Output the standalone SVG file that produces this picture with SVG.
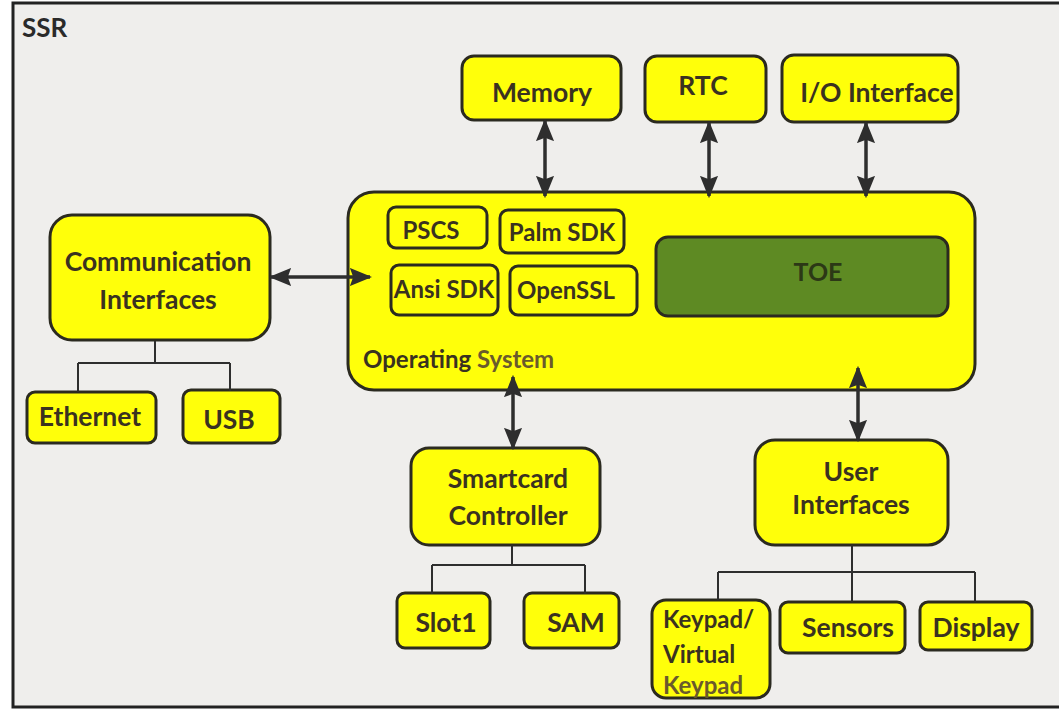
<svg xmlns="http://www.w3.org/2000/svg" width="1059" height="713" viewBox="0 0 1059 713">
  <style>
    .box { fill: #ffff0a; stroke: #2b2a20; stroke-width: 3; }
    .toe { fill: #5e8a23; stroke: #2b2a20; stroke-width: 3; }
    .lbl { font-family: Lato, "Open Sans", sans-serif; font-weight: bold; fill: #3a3220; font-size: 26.5px; }
    .sm { font-size: 24px; }
    .kp { font-size: 24px; }
    .mid { text-anchor: middle; }
    .soft { fill: #6a5a2c; }
    .link { stroke: #2e2e2e; stroke-width: 3.5; fill: none; }
    .tree { stroke: #2e2e2e; stroke-width: 2; fill: none; }
  </style>
  <defs>
    <marker id="head" viewBox="0 0 10 10" refX="9" refY="5" markerWidth="6.4" markerHeight="5.2" preserveAspectRatio="none" orient="auto-start-reverse" markerUnits="strokeWidth">
      <path d="M0,0 L10,5 L0,10 L1.5,5 z" fill="#2e2e2e"/>
    </marker>
  </defs>

  <rect width="1059" height="713" fill="#ffffff"/>
  <!-- SSR enclosure -->
  <g id="ssr">
    <rect x="13" y="3" width="1052" height="704" fill="#efeeec" stroke="#222" stroke-width="3"/>
    <text class="lbl" x="22" y="37" style="font-size:26px; fill:#2a2a2a">SSR</text>
  </g>

  <g id="memory">
    <rect class="box" x="462" y="56" width="159" height="64" rx="12"/>
    <text class="lbl mid" x="542" y="102">Memory</text>
  </g>
  <g id="rtc">
    <rect class="box" x="645" y="56" width="121" height="66" rx="12"/>
    <text class="lbl mid" x="703" y="95">RTC</text>
  </g>
  <g id="io-interface">
    <rect class="box" x="782" y="55" width="176" height="67" rx="12"/>
    <text class="lbl mid" x="877" y="102">I/O Interface</text>
  </g>

  <g id="operating-system">
    <rect class="box" x="348" y="192" width="627" height="198" rx="26"/>
    <text class="lbl sm" x="363" y="368">Operating <tspan class="soft">System</tspan></text>
  </g>
  <g id="pscs">
    <rect class="box" x="388" y="207" width="99" height="41" rx="8"/>
    <text class="lbl sm mid" x="431" y="239">PSCS</text>
  </g>
  <g id="palm-sdk">
    <rect class="box" x="500" y="210" width="124" height="43" rx="8"/>
    <text class="lbl sm mid" x="562" y="241">Palm SDK</text>
  </g>
  <g id="ansi-sdk">
    <rect class="box" x="391" y="265" width="107" height="50" rx="8"/>
    <text class="lbl sm mid" x="444" y="298">Ansi SDK</text>
  </g>
  <g id="openssl">
    <rect class="box" x="510" y="266" width="127" height="49" rx="8"/>
    <text class="lbl sm mid" x="566" y="299">OpenSSL</text>
  </g>
  <g id="toe">
    <rect class="toe" x="656" y="237" width="292" height="79" rx="12"/>
    <text class="lbl mid" x="818" y="281" style="font-size:25px; fill:#2c3816">TOE</text>
  </g>

  <g id="communication-interfaces">
    <rect class="box" x="50" y="215" width="220" height="125" rx="22"/>
    <text class="lbl mid" x="158" y="271">Communication</text>
    <text class="lbl mid" x="158" y="309">Interfaces</text>
  </g>
  <g id="ethernet">
    <rect class="box" x="27" y="392" width="129" height="51" rx="8"/>
    <text class="lbl mid" x="90" y="426">Ethernet</text>
  </g>
  <g id="usb">
    <rect class="box" x="183" y="390" width="97" height="53" rx="8"/>
    <text class="lbl mid" x="229" y="429">USB</text>
  </g>

  <g id="smartcard-controller">
    <rect class="box" x="411" y="448" width="189" height="97" rx="18"/>
    <text class="lbl mid" x="508" y="488">Smartcard</text>
    <text class="lbl mid" x="508" y="525">Controller</text>
  </g>
  <g id="slot1">
    <rect class="box" x="397" y="593" width="93" height="55" rx="8"/>
    <text class="lbl mid" x="446" y="632">Slot1</text>
  </g>
  <g id="sam">
    <rect class="box" x="524" y="593" width="95" height="55" rx="8"/>
    <text class="lbl mid" x="576" y="632">SAM</text>
  </g>

  <g id="user-interfaces">
    <rect class="box" x="755" y="440" width="193" height="105" rx="20"/>
    <text class="lbl mid" x="851" y="481">User</text>
    <text class="lbl mid" x="851" y="514">Interfaces</text>
  </g>
  <g id="keypad">
    <rect class="box" x="652" y="600" width="118" height="98" rx="14"/>
    <text class="lbl kp" x="663" y="628">Keypad/</text>
    <text class="lbl kp" x="663" y="663">Virtual</text>
    <text class="lbl kp soft" x="663" y="694">Keypad</text>
  </g>
  <g id="sensors">
    <rect class="box" x="780" y="602" width="125" height="51" rx="8"/>
    <text class="lbl mid" x="848" y="637">Sensors</text>
  </g>
  <g id="display">
    <rect class="box" x="920" y="602" width="112" height="48" rx="8"/>
    <text class="lbl mid" x="976" y="637">Display</text>
  </g>

  <!-- connectors, drawn last so heads inside the OS block stay visible -->
  <g id="connectors">
    <line class="link" x1="545" y1="121" x2="545" y2="196" marker-start="url(#head)" marker-end="url(#head)"/>
    <line class="link" x1="709" y1="123" x2="709" y2="196" marker-start="url(#head)" marker-end="url(#head)"/>
    <line class="link" x1="866" y1="123" x2="866" y2="196" marker-start="url(#head)" marker-end="url(#head)"/>
    <line class="link" x1="271" y1="277" x2="370" y2="277" marker-start="url(#head)" marker-end="url(#head)"/>
    <line class="link" x1="513" y1="377" x2="513" y2="448" marker-start="url(#head)" marker-end="url(#head)"/>
    <line class="link" x1="858" y1="368" x2="858" y2="440" marker-start="url(#head)" marker-end="url(#head)"/>
    <path class="tree" d="M155,341 V363 M78,363 H230 M78,363 V392 M230,363 V391"/>
    <path class="tree" d="M512,545 V565 M432,565 H585 M432,565 V594 M585,565 V594"/>
    <path class="tree" d="M852,545 V572 M718,572 H975 M718,572 V600 M852,572 V602 M975,572 V602"/>
  </g>
</svg>
